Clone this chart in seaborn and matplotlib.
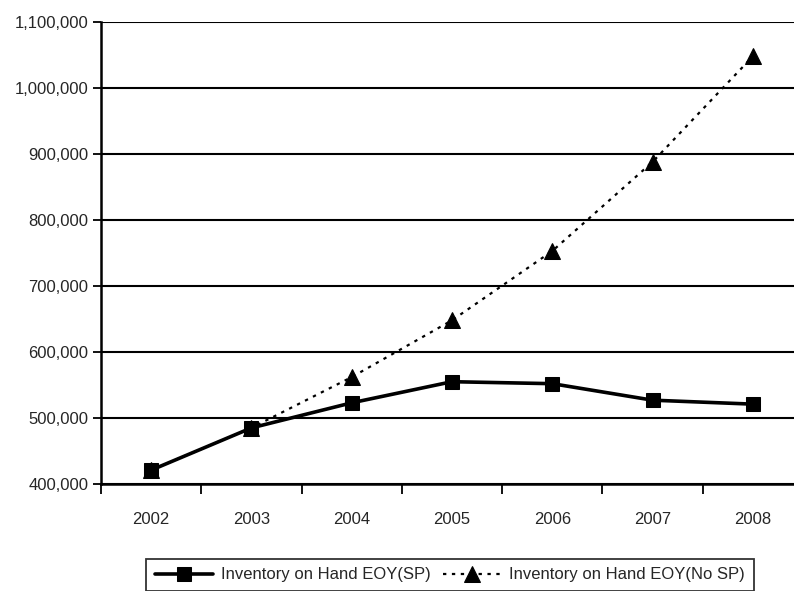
import matplotlib.pyplot as plt
import matplotlib.ticker as mticker
import pandas as pd
import seaborn as sns

years = ["2002", "2003", "2004", "2005", "2006", "2007", "2008"]
inv_sp = [421000, 485000, 523000, 555000, 552000, 527000, 521000]
inv_no_sp = [421000, 485000, 562000, 648000, 753000, 888000, 1048000]

df = pd.DataFrame({"year": years, "sp": inv_sp, "no_sp": inv_no_sp})
df["x"] = range(len(years))

sns.set_style("white")
plt.rcParams["font.family"] = ["Liberation Sans Narrow", "Liberation Sans", "DejaVu Sans"]

fig = plt.figure(figsize=(7.94, 5.91), dpi=100)
ax = fig.add_axes([101 / 794, 107 / 591, 702 / 794, 462 / 591])

sns.lineplot(data=df, x="x", y="sp", ax=ax, color="black", linewidth=2.6,
             marker="s", markersize=10, markeredgecolor="black",
             label="Inventory on Hand EOY(SP)", zorder=4)
sns.lineplot(data=df, x="x", y="no_sp", ax=ax, color="black", linewidth=1.6,
             linestyle=(0, (1.5, 2.5)), marker="^", markersize=11,
             markeredgecolor="black", label="Inventory on Hand EOY(No SP)", zorder=3)

ax.set_ylim(400000, 1100000)
ax.set_xlim(-0.5, 6.5)
ax.yaxis.set_major_locator(mticker.MultipleLocator(100000))
ax.yaxis.set_major_formatter(mticker.StrMethodFormatter("{x:,.0f}"))
ax.grid(axis="y", color="black", linewidth=1.5)
ax.set_axisbelow(True)

ax.set_xticks(range(len(years)))
ax.set_xticklabels(years)
ax.set_xticks([i - 0.5 for i in range(len(years) + 1)], minor=True)
ax.tick_params(axis="x", which="major", length=0, pad=20, labelsize=12)
ax.tick_params(axis="x", which="minor", length=7, width=1.3, color="black", direction="out", bottom=True)
ax.tick_params(axis="y", length=6, width=1.3, color="black", direction="out", left=True, labelsize=12, pad=3)

ax.set_xlabel("")
ax.set_ylabel("")
for s in ["top", "right"]:
    ax.spines[s].set_visible(False)
for s in ["left", "bottom"]:
    ax.spines[s].set_color("black")
    ax.spines[s].set_linewidth(1.8)

leg = ax.legend(loc="center", bbox_to_anchor=(450 / 794, 16 / 591),
                bbox_transform=fig.transFigure, ncol=2, frameon=True,
                fancybox=False, edgecolor="black", fontsize=12,
                handlelength=3.5, handletextpad=0.5, columnspacing=0.7,
                borderpad=0.5)
leg.get_frame().set_linewidth(1.3)

fig.savefig("out.png", dpi=100)
